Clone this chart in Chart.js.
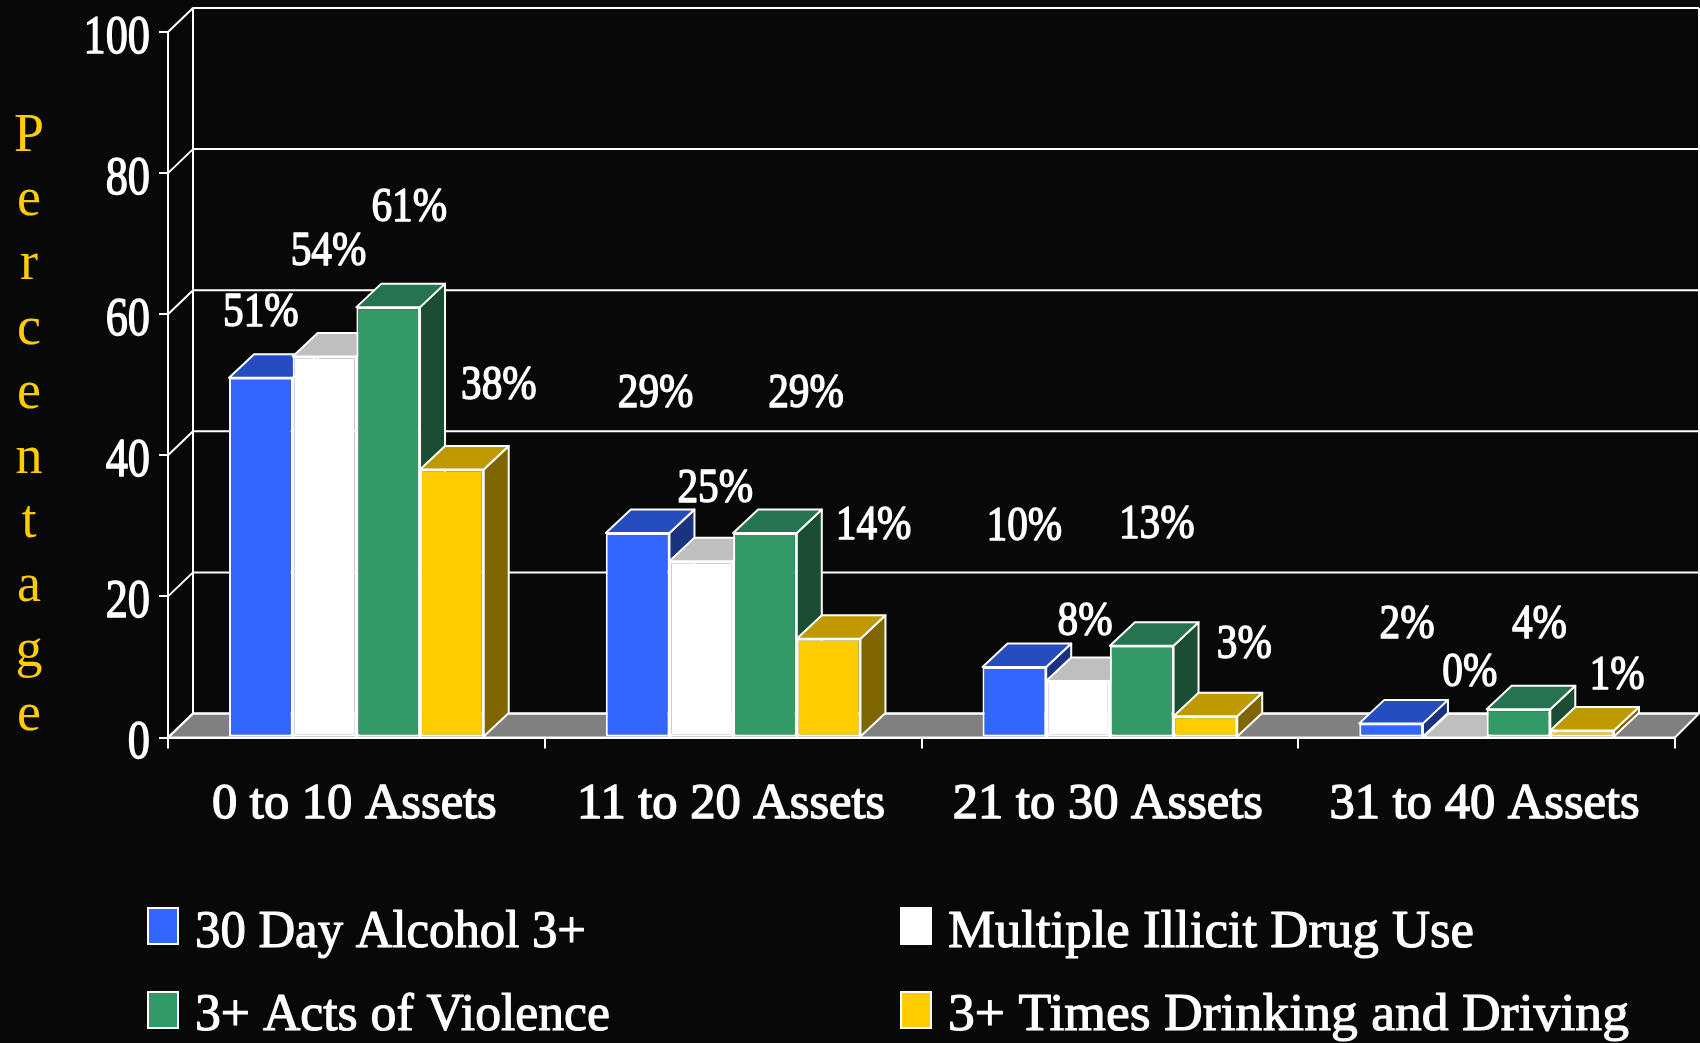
<!DOCTYPE html>
<html><head><meta charset="utf-8">
<style>html,body{margin:0;padding:0;background:#080808;overflow:hidden}canvas{display:block}</style>
<script src="https://cdn.jsdelivr.net/npm/chart.js@4"></script>
</head><body><canvas id="c" width="1700" height="1043"></canvas>
<script>
const categories = ["0 to 10 Assets","11 to 20 Assets","21 to 30 Assets","31 to 40 Assets"];
const seriesNames = ["30 Day Alcohol 3+","Multiple Illicit Drug Use","3+ Acts of Violence","3+ Times Drinking and Driving"];
const alcohol = [51,29,10,2];
const drugs = [54,25,8,0];
const violence = [61,29,13,4];
const driving = [38,14,3,1];
const yTicks = [0,20,40,60,80,100];
const axisTitle = "Percentage";

const FONT = '"Liberation Serif"';
const WHITE = '#ffffff';
const fronts = ['#3366ff','#ffffff','#339966','#ffcc00'];
const tops   = ['#264dbf','#bfbfbf','#267350','#bf9900'];
const sides  = ['#1a3380','#808080','#1a4d33','#806600'];
// hand-placed label offsets (px) from the top-centre of each bar, per series then category
const labelDx = [[0,18,10,16],[4,14,7,15],[21,41,15,21],[47,45,39,35]];
const labelDy = [[-64,-139,-140,-98],[-104,-72,-59,-64],[-99,-139,-120,-84],[-83,-112,-71,-54]];
const legendWidths = [391,526,415,681];
const WALL_X = 25, WALL_Y = 24, BAR_X = 25, BAR_Y = 23.5;

function poly(ctx, pts, fill){
  ctx.beginPath();
  pts.forEach((p,i)=> i?ctx.lineTo(p[0],p[1]):ctx.moveTo(p[0],p[1]));
  ctx.closePath();
  ctx.fillStyle = fill; ctx.fill();
  ctx.strokeStyle = WHITE; ctx.lineWidth = 2; ctx.lineJoin='round'; ctx.stroke();
}
function text(ctx, s, x, y, font, color, sx, bold){
  ctx.save();
  ctx.translate(x,y); ctx.scale(sx,1);
  ctx.font = font; ctx.fillStyle = color;
  if(bold){ctx.strokeStyle=color;ctx.lineWidth=bold;ctx.lineJoin='round';ctx.strokeText(s,0,0);}
  ctx.fillText(s,0,0);
  ctx.restore();
}
const wall = {
  id:'wall',
  beforeDraw(chart){
    const {ctx,chartArea:a,scales:{y}} = chart;
    ctx.save();
    const base = y.getPixelForValue(0);
    const r = a.right+WALL_X-1;
    poly(ctx,[[a.left,base],[a.left+WALL_X,base-WALL_Y],[r,base-WALL_Y],[a.right,base]],'#808080');
    ctx.lineWidth=2; ctx.strokeStyle=WHITE;
    yTicks.forEach(v=>{
      const py=y.getPixelForValue(v);
      ctx.beginPath();
      ctx.moveTo(a.left,py); ctx.lineTo(a.left+WALL_X,py-WALL_Y); ctx.lineTo(r,py-WALL_Y);
      ctx.stroke();
    });
    ctx.beginPath();
    ctx.moveTo(a.left+WALL_X,y.getPixelForValue(100)-WALL_Y); ctx.lineTo(a.left+WALL_X,base-WALL_Y);
    ctx.moveTo(r,y.getPixelForValue(100)-WALL_Y); ctx.lineTo(r,base-WALL_Y);
    ctx.stroke();
    ctx.restore();
  },
  beforeDatasetsDraw(chart){
    const ctx=chart.ctx;
    ctx.save();
    chart.data.datasets.forEach((d,i)=>{
      chart.getDatasetMeta(i).data.forEach(b=>{
        const l=b.x-b.width/2, r=b.x+b.width/2, t=b.y, f=b.base;
        poly(ctx,[[r,t],[r+BAR_X,t-BAR_Y],[r+BAR_X,f-BAR_Y],[r,f]],sides[i]);
        poly(ctx,[[l,t],[l+BAR_X,t-BAR_Y],[r+BAR_X,t-BAR_Y],[r,t]],tops[i]);
      });
    });
    ctx.restore();
  },
  afterDatasetsDraw(chart){
    const ctx=chart.ctx;
    ctx.save();
    ctx.textAlign='center'; ctx.textBaseline='middle';
    chart.data.datasets.forEach((d,i)=>{
      chart.getDatasetMeta(i).data.forEach((b,j)=>{
        text(ctx,d.data[j]+'%',b.x+labelDx[i][j],b.y+labelDy[i][j],'48px '+FONT,WHITE,0.86,1.4);
      });
    });
    ctx.restore();
  },
  afterDraw(chart){
    const ctx=chart.ctx, y=chart.scales.y;
    ctx.save();
    // y tick labels: condensed, taken from the scale's own ticks
    ctx.textAlign='right'; ctx.textBaseline='alphabetic';
    y.ticks.forEach(t=>{
      text(ctx,String(t.value),150,y.getPixelForValue(t.value)+20.5,'54px '+FONT,WHITE,0.82,1.4);
    });
    // vertical stacked axis title
    ctx.textAlign='center';
    [...axisTitle].forEach((ch,i)=>{
      text(ctx,i?ch:ch.toUpperCase(),29,150.5+i*64.4,'54px '+FONT,'#ffcc00',1,0);
    });
    // two-column legend
    ctx.textAlign='left';
    seriesNames.forEach((n,i)=>{
      const col=i%2,row=Math.floor(i/2);
      const x=col?901:148, yy=row?992:908;
      ctx.fillStyle=fronts[i]; ctx.fillRect(x,yy,30,36);
      ctx.strokeStyle=WHITE; ctx.lineWidth=2; ctx.strokeRect(x,yy,30,36);
      ctx.font='52px '+FONT;
      text(ctx,n,col?948:195,row?1030:947,'52px '+FONT,WHITE,legendWidths[i]/ctx.measureText(n).width,1.1);
    });
    ctx.restore();
  }
};
new Chart(document.getElementById('c'),{
  type:'bar',
  data:{labels:categories,datasets:[alcohol,drugs,violence,driving].map((v,i)=>({
    label:seriesNames[i],data:v,backgroundColor:fronts[i],borderColor:WHITE,borderWidth:2,borderSkipped:false,
    barPercentage:1,categoryPercentage:0.676
  }))},
  options:{
    responsive:false,animation:false,
    layout:{padding:{top:32,right:25,left:0,bottom:0}},
    plugins:{legend:{display:false},tooltip:{enabled:false}},
    scales:{
      x:{
        grid:{drawOnChartArea:false,color:WHITE,lineWidth:2,tickLength:11,offset:true},
        border:{color:WHITE,width:2},
        ticks:{color:WHITE,font:{family:FONT,size:50.5},padding:26,labelOffset:-2,maxRotation:0,autoSkip:false,textStrokeColor:WHITE,textStrokeWidth:1.4},
        afterFit(s){s.height=305.5;}
      },
      y:{
        min:0,max:100,
        afterBuildTicks(s){s.ticks=yTicks.map(v=>({value:v}));},
        grid:{drawOnChartArea:false,color:WHITE,lineWidth:2,tickLength:9},
        border:{color:WHITE,width:2},
        ticks:{display:false},
        afterFit(s){s.width=168;}
      }
    }
  },
  plugins:[wall]
});
</script></body></html>
